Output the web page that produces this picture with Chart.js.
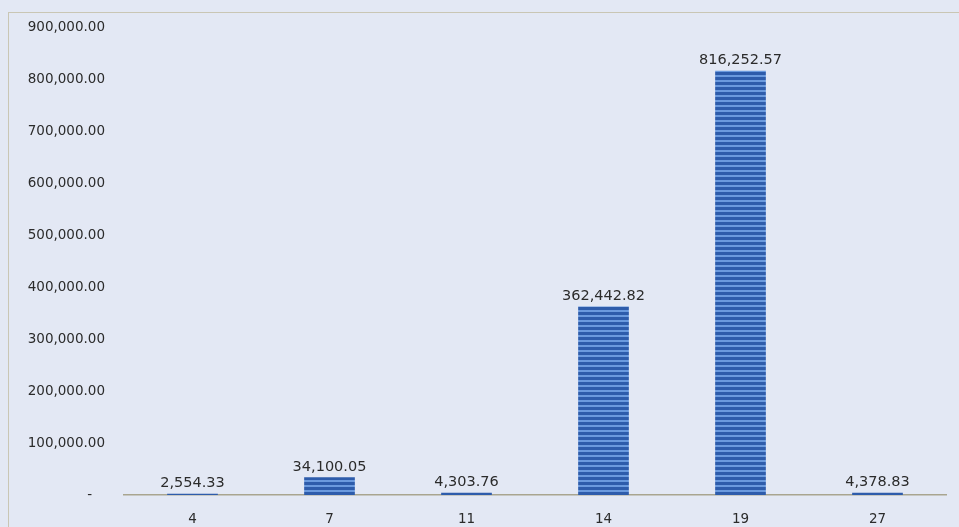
<!DOCTYPE html>
<html>
<head>
<meta charset="utf-8">
<script src="https://cdn.jsdelivr.net/npm/chart.js@4"></script>
<style>
  html, body { margin: 0; padding: 0; background: #e3e8f4; }
  #wrap { width: 959px; height: 527px; position: relative; }
</style>
</head>
<body>
<div id="wrap"><canvas id="chart"></canvas></div>
<script>
// 카테고리와 값
const categories = ['4', '7', '11', '14', '19', '27'];
const amounts = [2554.33, 34100.05, 4303.76, 362442.82, 816252.57, 4378.83];
const yTicks = [0, 100000, 200000, 300000, 400000, 500000, 600000, 700000, 800000, 900000];

const colors = {
  bg: '#e3e8f4',
  frame: '#c9c6b4',
  axis: '#a9a58f',
  text: '#2b2b2b',
  stripeDark: '#2e5cab',
  stripeLight: '#6b9ade'
};

const FONT = '"DejaVu Sans", Verdana, sans-serif';
const fmt = (v) => v.toLocaleString('en-US', { minimumFractionDigits: 2, maximumFractionDigits: 2 });

// 가로 줄무늬 막대 패턴 (5px 주기: 밝은 2줄 + 진한 3줄)
function stripePattern(ctx) {
  const c = document.createElement('canvas');
  c.width = 5; c.height = 5;
  const p = c.getContext('2d');
  p.fillStyle = colors.stripeDark;
  p.fillRect(0, 0, 5, 5);
  p.fillStyle = colors.stripeLight;
  p.fillRect(0, 0, 5, 2);
  return ctx.createPattern(c, 'repeat');
}

// 배경 + 바깥 테두리
const backdrop = {
  id: 'backdrop',
  beforeDraw(chart) {
    const { ctx, width, height } = chart;
    ctx.save();
    ctx.fillStyle = colors.bg;
    ctx.fillRect(0, 0, width, height);
    ctx.strokeStyle = colors.frame;
    ctx.lineWidth = 1;
    ctx.strokeRect(8.5, 12.5, width + 10, height + 10);
    ctx.restore();
  }
};

// 막대 위 값 표시
const valueLabels = {
  id: 'valueLabels',
  afterDatasetsDraw(chart) {
    const { ctx } = chart;
    const meta = chart.getDatasetMeta(0);
    ctx.save();
    ctx.font = '14.5px ' + FONT;
    ctx.fillStyle = colors.text;
    ctx.textAlign = 'center';
    ctx.textBaseline = 'bottom';
    meta.data.forEach((bar, i) => {
      ctx.fillText(fmt(amounts[i]), bar.x, bar.y - 3);
    });
    ctx.restore();
  }
};

const canvas = document.getElementById('chart');
const ctx = canvas.getContext('2d');

new Chart(canvas, {
  type: 'bar',
  data: {
    labels: categories,
    datasets: [{
      data: amounts,
      backgroundColor: stripePattern(ctx),
      borderWidth: 0,
      categoryPercentage: 1,
      barPercentage: 0.37
    }]
  },
  options: {
    responsive: true,
    maintainAspectRatio: false,
    animation: false,
    layout: { padding: { left: 26, right: 13, top: 20, bottom: 0 } },
    plugins: { legend: { display: false }, tooltip: { enabled: false } },
    scales: {
      x: {
        grid: { display: false },
        border: { display: true, color: colors.axis, width: 1.5 },
        afterFit(axis) { axis.height = 32; },
        ticks: { color: colors.text, font: { size: 13.5, family: FONT }, padding: 8 }
      },
      y: {
        min: 0,
        max: 900000,
        afterBuildTicks(axis) { axis.ticks = yTicks.map(v => ({ value: v })); },
        afterFit(axis) { axis.width = 98; },
        grid: { display: false, drawTicks: false },
        border: { display: false },
        ticks: {
          color: colors.text,
          padding: 19,
          font: { size: 13.5, family: FONT },
          callback: (v) => v === 0 ? '-   ' : fmt(v)
        }
      }
    }
  },
  plugins: [backdrop, valueLabels]
});
</script>
</body>
</html>
